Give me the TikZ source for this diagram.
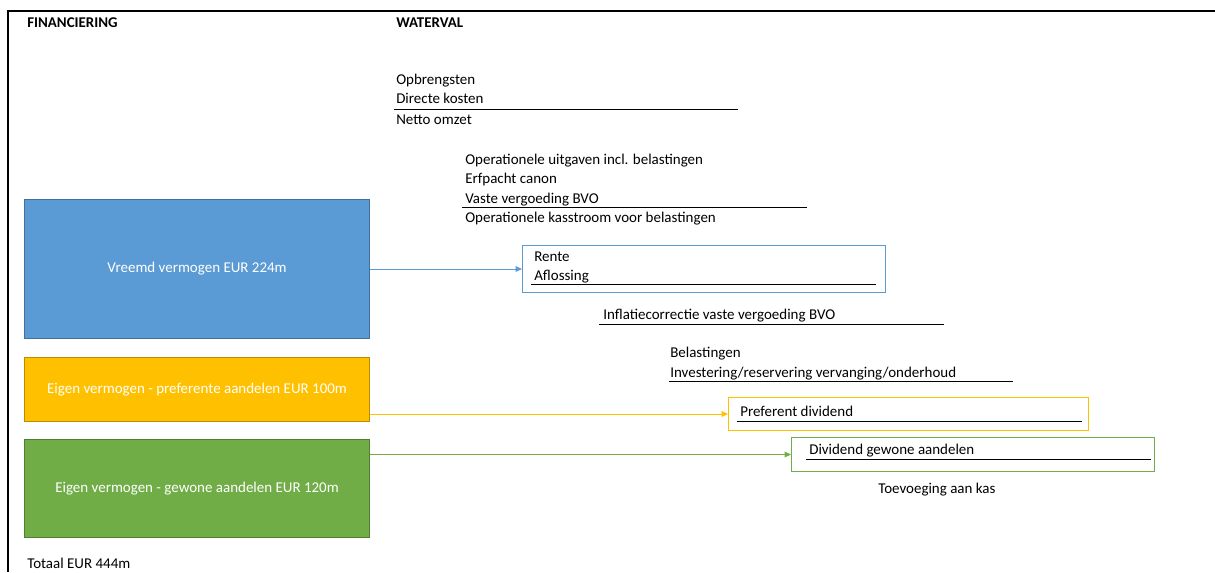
\documentclass[tikz,border=0pt]{standalone}
\usepackage{fontspec}
\setmainfont{Carlito}
\usetikzlibrary{positioning}
\usetikzlibrary{calc,arrows.meta}

\definecolor{vvblue}{HTML}{5B9BD5}
\definecolor{vvblueline}{HTML}{41719C}
\definecolor{evyellow}{HTML}{FFC000}
\definecolor{evyellowline}{HTML}{BC8C00}
\definecolor{evgreen}{HTML}{70AD47}
\definecolor{evgreenline}{HTML}{507E32}

\tikzset{
	txt/.style={font=\fontsize{10.65}{13}\selectfont,inner sep=0pt,anchor=base west},
	head/.style={font=\fontsize{10.6}{12}\selectfont\bfseries,inner sep=0pt,anchor=base west},
	finbox/.style={draw=#1line,fill=#1,line width=0.7pt,minimum width=8.625cm,anchor=north west},
	finlabel/.style={font=\fontsize{10.65}{13}\selectfont,text=white,inner sep=0pt},
	wvbox/.style={draw=#1,line width=0.7pt,anchor=north west},
	uline/.style={line width=0.7pt},
	flow/.style={draw=#1,line width=0.6pt,-{Triangle[length=4.5pt,width=4pt]}}
}

\begin{document}
\begin{tikzpicture}[x=0.025cm,y=-0.025cm]
		\useasboundingbox (0,0) rectangle (1215,572);
		% frame
		\draw[line width=1.4pt] (1215,11) -- (8,11) -- (8,572);
		
		\node[head] (finhead) at (27,27) {FINANCIERING};
		\node[head] (wvhead) at (396,27) {WATERVAL};
		
		% financiering
		\node[finbox=vvblue,minimum height=3.475cm] (vreemd) at (24,199) {};
		\node[finlabel] at (vreemd.center) {Vreemd vermogen EUR 224m};
		\node[finbox=evyellow,minimum height=1.6cm] (prefev) at (24,357) {};
		\node[finlabel] at (prefev.center) {Eigen vermogen - preferente aandelen EUR 100m};
		\node[finbox=evgreen,minimum height=2.45cm] (gewev) at (24,439) {};
		\node[finlabel] at (gewev.center) {Eigen vermogen - gewone aandelen EUR 120m};
		\node[txt] (totaal) at (27,568) {Totaal EUR 444m};
		
		% waterval
		\node[txt] (opbr) at (396,84) {Opbrengsten};
		\node[txt] (direct) at (396,103) {Directe kosten};
		\draw[uline] (394,109) -- (738,109);
		\node[txt] (netto) at (396,124) {Netto omzet};
		
		\node[txt] (opuit) at (465,164) {Operationele uitgaven incl. belastingen};
		\node[txt] (erfp) at (465,183) {Erfpacht canon};
		\node[txt] (vaste) at (465,203) {Vaste vergoeding BVO};
		\draw[uline] (462,207) -- (807,207);
		\node[txt] (opkas) at (465,222) {Operationele kasstroom voor belastingen};
		
		\node[wvbox=vvblue,minimum width=9.075cm,minimum height=1.175cm] (rentebox) at (522,245) {};
		\node[txt] (rente) at (534,261) {Rente};
		\node[txt] (afl) at (534,280) {Aflossing};
		\draw[uline] (531,284) -- (876,284);
		
		\node[txt] (infl) at (603,319) {Inflatiecorrectie vaste vergoeding BVO};
		\draw[uline] (599,324) -- (944,324);
		
		\node[txt] (belast) at (670,357) {Belastingen};
		\node[txt] (invest) at (670,377) {Investering/reservering vervanging/onderhoud};
		\draw[uline] (669,381) -- (1013,381);
		
		\node[wvbox=evyellow,minimum width=9cm,minimum height=0.825cm] (prefbox) at (728,397) {};
		\node[txt] (prefdiv) at (740,416) {Preferent dividend};
		\draw[uline] (737,421) -- (1082,421);
		
		\node[wvbox=evgreen,minimum width=9.075cm,minimum height=0.85cm] (gewbox) at (791,437) {};
		\node[txt] (gewdiv) at (809,454) {Dividend gewone aandelen};
		\draw[uline] (806,459) -- (1151,459);
		
		\node[txt] (kas) at (878,493) {Toevoeging aan kas};
		
		% stromen
		\draw[flow=vvblue] (vreemd.east |- rentebox.west) -- (rentebox.west);
		\draw[flow=evyellow] (prefev.east |- prefbox.west) -- (prefbox.west);
		\draw[flow=evgreen] (gewev.east |- gewbox.west) -- (gewbox.west);
	\end{tikzpicture}
\end{document}
